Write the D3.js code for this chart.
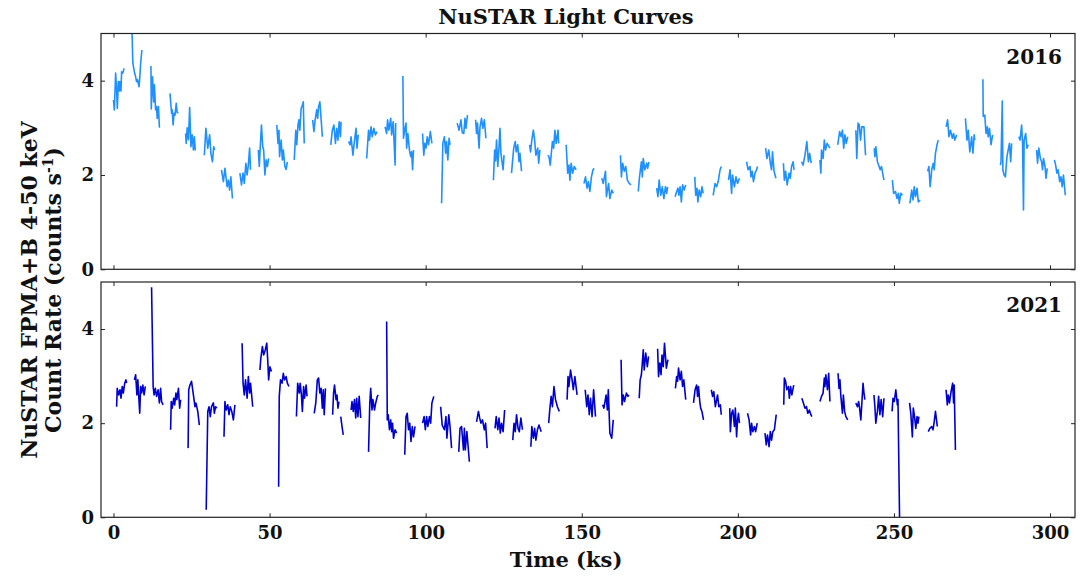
<!DOCTYPE html>
<html>
<head>
<meta charset="utf-8">
<script src="https://cdn.jsdelivr.net/npm/d3@7"></script>
<style>
body { margin: 0; background: #fff; }
text { font-family: "DejaVu Serif", serif; font-weight: bold; fill: #111; }
</style>
</head>
<body>
<script>
// tick values and labels
var xTicks = [0, 50, 100, 150, 200, 250, 300];
var yTicks = [0, 2, 4];
var years = ["2016", "2021"];

// light curves, one array per good-time interval: [time (ks), rate (counts/s)]
var lc2016 = [
  [[0,3.59],[0.27,3.38],[0.69,4.16],[1.0,3.80],[1.23,3.41],[1.55,3.98],[1.87,3.78],[2.08,3.98],[2.4,3.78],[2.6,4.19],[2.9,4.16],[3.15,4.19],[3.36,4.26]],
  [[5.8,5.4],[6.2,4.37],[6.67,4.19],[7.1,4.08],[7.4,3.98],[7.7,4.02],[8.2,3.87],[8.4,4.05],[8.7,4.37],[9.1,4.65]],
  [[12.0,4.31],[12.1,3.40],[12.5,4.08],[12.9,3.55],[13.1,3.91],[13.5,3.38],[13.8,3.45],[14.0,3.20],[14.4,3.45],[14.7,3.02],[14.9,3.01]],
  [[18.1,3.73],[18.6,3.31],[18.8,3.38],[19.1,3.06],[19.4,3.31],[19.7,3.27],[20.1,3.52],[20.4,3.32],[20.8,3.32]],
  [[23.1,2.88],[23.3,2.67],[23.6,3.0],[24.0,2.75],[24.4,3.43],[24.8,2.6],[25.2,2.85],[25.6,2.53],[25.9,2.81],[26.2,2.52]],
  [[29.1,2.42],[29.6,2.99],[30.2,2.57],[30.8,2.85],[31.2,2.46],[31.7,2.28],[32.1,2.6],[32.4,2.53]],
  [[34.6,2.11],[35.2,1.86],[35.7,2.14],[36.4,1.75],[36.8,1.89],[37.2,1.68],[37.6,1.96],[38.1,1.5]],
  [[40.5,2.04],[41.0,1.79],[41.5,2.04],[41.9,1.82],[42.4,2.25],[42.8,2.0],[43.2,2.21],[43.6,2.57],[43.9,2.11]],
  [[46.4,2.53],[46.7,2.18],[47.0,2.57],[47.4,3.06],[47.8,2.6],[48.1,2.53],[48.5,2.0],[48.9,2.32],[49.3,2.18],[49.7,2.35]],
  [[52.3,3.06],[52.7,2.67],[53.0,2.95],[53.2,2.39],[53.7,2.74],[54.1,2.32],[54.4,2.53],[54.9,2.18],[55.3,2.12],[55.7,2.28]],
  [[57.9,2.32],[58.4,2.95],[58.7,2.64],[59.1,3.06],[59.4,3.17],[59.7,2.95],[60.1,3.41],[60.5,3.48],[60.8,3.55],[61.1,2.67]],
  [[63.8,3.17],[64.2,2.92],[64.6,3.17],[65.1,3.38],[65.4,3.2],[65.7,3.45],[66.1,3.55],[66.6,3.1],[66.9,2.81]],
  [[69.6,2.64],[70.1,2.95],[70.6,3.06],[71.1,2.67],[71.5,2.99],[71.9,2.74],[72.3,3.13],[72.7,2.81],[72.9,3.13]],
  [[75.3,2.71],[75.8,2.64],[76.1,2.81],[76.7,2.42],[77.1,2.67],[77.7,2.99],[78.0,2.57],[78.4,2.85]],
  [[81.1,2.35],[81.7,2.95],[82.0,2.74],[82.5,3.02],[82.9,2.81],[83.4,2.99],[83.9,2.85],[84.4,2.92]],
  [[87.0,3.02],[87.5,2.88],[87.8,3.17],[88.2,2.95],[88.8,3.2],[89.1,2.85],[89.6,3.13],[90.2,2.21],[90.4,3.1]],
  [[92.7,4.10],[92.9,2.78],[93.4,3.0],[93.7,3.10],[93.9,2.57],[94.3,2.88],[94.8,2.53],[95.2,2.39],[95.5,2.49],[95.8,2.11],[96.1,2.53]],
  [[99.0,2.88],[99.4,2.42],[99.7,2.67],[100.1,2.57],[100.5,2.81],[100.9,2.64],[101.5,2.92],[102.0,2.67]],
  [[105.1,1.40],[105.5,2.67],[106.0,2.81],[106.4,2.46],[106.7,2.71],[107.1,2.32],[107.5,2.78],[107.8,2.64]],
  [[110.1,3.10],[110.7,2.95],[111.3,3.17],[111.7,2.9],[112.2,2.88],[112.6,3.2],[112.9,2.99],[113.4,3.27]],
  [[116.0,3.17],[116.3,2.88],[116.6,3.10],[117.1,2.57],[117.4,3.02],[117.9,3.2],[118.3,2.99],[118.8,3.17],[119.3,2.78]],
  [[121.7,1.89],[122.1,2.53],[122.4,2.3],[122.7,2.74],[123.1,2.18],[123.5,2.6],[123.8,2.99],[124.1,2.46],[124.8,2.11],[125.1,2.42]],
  [[127.5,2.04],[128.2,2.57],[128.7,2.71],[129.0,2.49],[129.5,2.64],[129.9,2.28],[130.2,2.46],[130.7,2.08]],
  [[133.3,2.64],[133.6,2.49],[134.0,2.74],[134.5,2.95],[134.9,2.74],[135.3,2.42],[135.9,2.57],[136.2,2.25],[136.6,2.53]],
  [[139.1,2.42],[139.5,2.39],[139.9,2.21],[140.6,2.71],[141.0,2.57],[141.4,2.95],[141.8,2.67],[142.4,2.95],[142.6,2.67]],
  [[145.0,2.64],[145.5,2.04],[145.9,2.21],[146.2,1.89],[146.6,2.25],[147.1,2.04],[147.6,2.18],[148.2,2.11]],
  [[150.7,1.82],[151.2,1.96],[151.7,1.72],[152.1,1.86],[152.6,1.65],[153.1,1.96],[153.6,2.11],[154.0,2.14]],
  [[156.4,1.93],[156.9,1.82],[157.6,2.08],[157.9,1.54],[158.6,1.82],[159.0,1.50],[159.6,1.68],[160.1,1.61]],
  [[162.4,2.42],[162.7,1.96],[163.1,2.25],[163.6,2.08],[164.1,2.18],[164.6,1.89],[165.2,1.82],[165.8,1.79]],
  [[168.1,1.65],[168.5,1.96],[169.1,2.28],[169.4,1.96],[169.7,2.35],[170.2,2.11],[170.8,2.25],[171.1,2.14],[171.5,2.28]],
  [[174.0,1.72],[174.4,1.54],[174.8,1.89],[175.3,1.57],[175.8,1.75],[176.3,1.50],[176.8,1.75],[177.2,1.61],[177.5,1.75]],
  [[179.9,1.54],[180.4,1.65],[180.8,1.72],[181.1,1.57],[181.5,1.75],[181.9,1.43],[182.3,1.79],[182.8,1.68],[183.3,1.79]],
  [[186.2,1.96],[186.5,1.57],[186.9,1.72],[187.2,1.43],[187.6,1.68],[188.1,1.54],[188.5,1.75],[188.9,1.61]],
  [[192.1,1.57],[192.7,1.82],[193.2,1.75],[193.7,1.86],[194.3,2.11],[194.7,2.18]],
  [[197.0,1.89],[197.5,2.11],[198.0,1.61],[198.3,2.0],[198.9,1.75],[199.4,1.96],[199.9,1.82],[200.5,1.93]],
  [[202.8,2.28],[203.3,2.11],[203.9,2.18],[204.2,1.96],[204.6,2.08],[205.0,1.86],[205.5,2.04],[206.0,2.11],[206.3,2.18]],
  [[208.9,2.57],[209.3,2.35],[209.9,2.53],[210.4,2.25],[210.8,2.11],[211.1,2.49],[211.6,2.08],[212.2,1.93]],
  [[214.6,2.25],[214.9,1.89],[215.3,2.08],[215.8,1.79],[216.4,2.04],[216.8,1.93],[217.2,2.18],[217.7,2.28],[218.0,2.11]],
  [[220.4,2.28],[220.9,2.21],[221.5,2.42],[222.1,2.71],[222.6,2.28],[223.0,2.46],[223.5,2.25]],
  [[226.3,2.32],[226.6,2.04],[226.8,2.53],[227.3,2.35],[227.7,2.74],[228.1,2.53],[228.6,2.67],[229.5,2.57]],
  [[232.0,2.64],[232.6,2.92],[233.1,2.81],[233.5,2.95],[233.9,2.57],[234.3,2.85],[234.7,2.67],[235.2,2.81]],
  [[237.8,2.95],[238.1,2.35],[238.5,3.10],[238.9,3.06],[239.3,2.74],[239.7,3.02],[240.4,3.02],[240.9,2.42]],
  [[243.7,2.57],[243.9,2.39],[244.2,2.6],[244.7,2.28],[245.1,2.21],[245.6,2.11],[246.0,2.18],[246.8,1.89]],
  [[249.5,1.89],[249.9,1.61],[250.5,1.65],[251.0,1.50],[251.4,1.61],[251.7,1.40],[252.2,1.61],[252.7,1.57]],
  [[255.1,1.40],[255.7,1.68],[256.1,1.47],[256.5,1.75],[256.9,1.54],[257.4,1.72],[257.8,1.43],[258.4,1.47]],
  [[260.8,2.08],[261.2,2.18],[261.6,1.75],[262.1,2.11],[262.6,2.25],[262.9,2.11],[263.3,2.46],[263.8,2.64],[264.2,2.74]],
  [[266.7,3.02],[267.2,3.17],[267.6,2.81],[268.1,2.95],[268.7,2.78],[269.1,2.88],[269.5,2.74],[270.1,2.85]],
  [[272.9,3.20],[273.4,2.74],[273.8,2.95],[274.3,2.49],[274.9,2.81],[275.3,2.46],[275.7,2.85],[275.9,2.74]],
  [[278.5,4.03],[278.6,3.24],[279.1,3.27],[279.5,2.88],[279.9,3.02],[280.2,2.81],[280.6,2.99],[281.1,2.64],[281.6,2.85]],
  [[284.1,2.21],[284.3,2.28],[284.7,3.57],[284.9,2.1],[285.3,2.0],[285.7,1.96],[286.2,2.39],[286.6,2.53],[287.0,2.67],[287.4,2.28],[287.7,2.67]],
  [[290.0,2.81],[290.4,2.74],[290.9,3.06],[291.2,2.67],[291.5,1.26],[291.7,2.74],[292.2,2.88],[292.6,2.57],[293.0,2.64]],
  [[295.7,2.53],[296.0,2.25],[296.4,2.57],[296.9,2.35],[297.3,2.28],[297.6,2.11],[297.9,2.35],[298.4,2.18],[298.7,1.93],[299.1,2.14]],
  [[301.4,2.32],[301.8,2.21],[302.2,2.04],[302.6,2.11],[303.1,1.86],[303.5,1.96],[303.9,1.75],[304.3,2.0],[304.9,1.57]]
];

var lc2021 = [
  [[1.0,2.35],[1.2,2.74],[1.65,2.60],[2.1,2.71],[2.4,2.53],[2.8,2.78],[3.15,2.64],[3.6,2.85],[4.0,2.92],[4.2,2.85]],
  [[6.7,2.92],[7.1,3.03],[7.5,2.60],[7.8,2.92],[8.4,2.21],[8.7,2.78],[9.0,2.64],[9.4,2.81],[9.8,2.60],[10.2,2.78]],
  [[12.2,4.89],[12.7,2.78],[13.0,2.60],[13.4,2.74],[13.8,2.57],[14.3,2.71],[14.7,2.43],[15.1,2.74],[15.4,2.46],[15.9,2.39]],
  [[18.3,1.86],[18.5,2.46],[18.8,2.32],[19.3,2.53],[19.6,2.39],[20.0,2.64],[20.3,2.50],[20.8,2.74],[21.2,2.32],[21.5,2.50]],
  [[23.9,1.47],[24.1,2.71],[24.5,2.81],[25.0,2.89],[25.6,2.60],[26.1,2.35],[26.4,2.43],[27.0,2.25],[27.5,1.96]],
  [[29.7,0.16],[30.2,2.25],[30.6,2.35],[31.0,2.14],[31.4,2.35],[32.0,2.43],[32.3,2.21],[32.7,2.35],[33.1,2.32]],
  [[35.4,1.71],[35.7,2.46],[36.1,2.28],[36.6,2.39],[37.0,2.18],[37.4,2.35],[37.9,2.25],[38.4,2.07],[38.9,2.39]],
  [[41.2,3.70],[41.5,2.85],[41.9,2.60],[42.3,2.92],[42.8,2.53],[43.2,2.99],[43.6,2.64],[43.9,2.85],[44.6,2.35]],
  [[46.9,3.13],[47.2,3.38],[47.7,3.63],[48.1,3.45],[48.6,3.55],[49.1,3.70],[49.4,3.35],[49.7,2.92],[50.1,3.20],[50.6,3.10]],
  [[52.9,0.65],[53.1,2.57],[53.5,2.92],[54.0,2.85],[54.4,3.06],[54.8,2.92],[55.3,2.99],[55.7,2.85],[56.2,2.78]],
  [[58.6,2.14],[59.0,2.85],[59.5,2.64],[59.8,2.85],[60.2,2.6],[60.5,2.25],[60.9,2.78],[61.2,2.53],[61.7,2.81],[62.0,2.57]],
  [[64.3,2.21],[64.8,2.43],[65.3,2.92],[65.7,2.96],[66.1,2.64],[66.5,2.74],[66.9,2.32],[67.2,2.71],[67.5,2.18],[67.9,2.74]],
  [[70.2,2.18],[70.5,2.64],[70.8,2.81],[71.3,2.50],[71.6,2.60],[71.9,2.32],[72.2,2.46]],
  [[72.8,2.14],[73.2,1.93],[73.6,1.75]],
  [[76.1,2.28],[76.4,2.46],[76.8,2.25],[77.2,2.50],[77.6,2.11],[77.9,2.53],[78.3,2.14],[78.7,2.57],[79.2,2.11]],
  [[81.7,1.39],[82.1,2.43],[82.4,2.74],[82.8,2.28],[83.1,2.50],[83.6,2.28],[84.0,2.43],[84.5,2.57],[84.8,2.60]],
  [[87.5,4.16],[87.7,2.07],[88.0,2.18],[88.4,1.86],[88.8,2.07],[89.1,1.82],[89.4,2.0],[89.7,1.68],[90.2,1.86],[90.7,1.79]],
  [[93.3,1.33],[93.7,2.14],[94.1,2.21],[94.5,1.86],[94.9,2.0],[95.3,1.61],[95.7,1.93],[96.1,1.71],[96.6,1.93]],
  [[99.0,2.0],[99.5,2.14],[99.9,1.86],[100.3,2.14],[100.7,1.93],[101.2,2.14],[101.6,2.0],[102.0,2.43],[102.6,2.57]],
  [[104.8,2.35],[105.3,1.96],[106.0,1.86],[106.5,2.14],[106.8,1.68],[107.4,2.18],[107.8,1.93],[108.3,1.47]],
  [[110.6,1.39],[111.0,1.89],[111.5,1.93],[112.1,1.43],[112.4,1.89],[112.7,1.43],[113.2,1.82],[114.0,1.18]],
  [[116.3,2.03],[116.9,2.25],[117.3,2.11],[117.7,2.0],[118.2,2.07],[118.8,1.86],[119.2,2.0],[119.7,1.47]],
  [[122.2,1.89],[122.6,2.14],[123.1,1.86],[123.5,2.11],[123.9,1.79],[124.3,2.0],[124.8,1.82],[125.3,2.28]],
  [[127.9,1.64],[128.3,2.0],[128.7,1.82],[129.1,2.18],[129.6,1.89],[130.0,1.82],[130.5,2.11],[131.0,1.86]],
  [[133.7,1.50],[134.0,1.93],[134.5,1.68],[134.9,1.89],[135.3,1.64],[135.8,1.86],[136.3,1.96],[137.0,1.82]],
  [[139.4,2.0],[139.8,2.32],[140.2,2.57],[140.6,2.35],[141.1,2.78],[141.6,2.50],[142.2,2.35],[142.8,2.25]],
  [[145.3,2.50],[145.6,2.99],[145.9,2.78],[146.4,3.13],[146.9,2.92],[147.3,2.71],[147.8,2.99],[148.5,2.60]],
  [[151.1,2.71],[151.6,2.35],[152.0,2.60],[152.4,2.18],[152.8,2.53],[153.3,2.14],[153.8,2.71],[154.4,2.14]],
  [[156.7,2.39],[157.1,2.32],[157.8,2.60],[158.2,2.28],[158.5,2.71],[159.0,1.79],[159.6,1.68],[160.1,2.07]],
  [[162.6,3.35],[162.9,2.39],[163.3,2.60],[163.7,2.46],[164.3,2.64],[164.8,2.57],[165.1,2.60]],
  [[168.4,2.53],[168.7,2.92],[169.1,3.03],[169.4,3.28],[169.7,3.56],[170.0,3.13],[170.5,3.49],[171.0,3.20],[171.4,3.42]],
  [[174.3,3.58],[174.6,2.99],[175.0,3.28],[175.4,3.03],[175.7,3.45],[176.1,3.20],[176.5,3.70],[177.1,3.17],[177.6,3.35]],
  [[180.0,2.74],[180.4,2.99],[180.7,2.89],[181.0,3.17],[181.5,2.92],[181.9,3.10],[182.3,2.78],[182.7,2.92],[183.3,2.50]],
  [[185.8,2.43],[186.3,2.71],[186.8,2.81],[187.1,2.57],[187.4,2.78],[187.8,2.46],[188.1,2.32],[188.5,2.25],[189.0,2.07]],
  [[191.5,2.71],[191.9,2.57],[192.3,2.67],[192.8,2.35],[193.2,2.50],[193.5,2.60],[193.9,2.35],[194.4,2.39],[194.7,2.18]],
  [[197.4,2.32],[197.6,1.82],[198.0,2.21],[198.4,2.28],[198.9,1.93],[199.2,2.32],[199.6,1.71],[199.9,2.07],[200.2,2.21],[200.5,2.0]],
  [[203.1,2.21],[203.6,2.07],[204.1,1.75],[204.4,2.0],[204.8,1.82],[205.3,1.93],[205.7,1.82],[206.2,2.0]],
  [[208.7,1.79],[209.1,1.54],[209.5,1.75],[210.0,1.50],[210.4,1.82],[210.8,1.64],[211.2,1.82],[211.7,1.86],[212.3,2.18]],
  [[214.7,2.39],[214.9,2.96],[215.3,2.89],[215.7,2.71],[216.2,2.78],[216.5,2.53],[216.9,2.78],[217.3,2.60],[217.9,2.81]],
  [[220.5,2.53],[221.0,2.43],[221.5,2.32],[222.0,2.35],[222.4,2.21],[222.9,2.28],[223.4,2.18],[223.7,2.14]],
  [[226.3,2.46],[226.8,2.57],[227.3,2.64],[227.7,2.96],[227.9,2.78],[228.2,3.03],[228.7,2.71],[229.1,3.06],[229.5,2.46]],
  [[232.1,3.06],[232.4,2.74],[232.7,2.92],[233.0,2.57],[233.5,2.21],[233.8,2.60],[234.2,2.25],[234.6,2.14],[235.2,2.07]],
  [[237.8,2.43],[238.3,2.35],[238.7,2.46],[239.0,2.32],[239.4,2.07],[240.1,2.85],[240.4,2.64],[240.7,2.50]],
  [[243.6,2.60],[243.9,2.35],[244.2,2.0],[244.7,2.25],[245.1,2.57],[245.5,2.18],[245.9,2.50],[246.4,2.14],[246.8,2.53]],
  [[249.4,2.25],[249.7,2.53],[250.1,2.46],[250.6,2.71],[251.1,2.39],[251.3,2.50],[251.8,0.0]],
  [[255.0,2.43],[255.4,2.21],[255.9,1.71],[256.2,2.32],[256.6,2.14],[257.0,1.89],[257.4,2.14],[257.7,2.0],[258.0,2.14]],
  [[261.0,1.82],[261.5,1.89],[262.1,1.93],[262.5,1.86],[262.9,2.03],[263.3,2.25],[263.9,1.93]],
  [[266.7,2.71],[267.1,2.39],[267.4,2.60],[267.8,2.43],[268.3,2.67],[268.8,2.85],[269.1,2.43],[269.3,2.81],[269.7,1.43]]
];

var width = 1080, height = 578;
var left = 101, right = 1075;

var svg = d3.select("body").append("svg")
    .attr("width", width)
    .attr("height", height);

var x = d3.scaleLinear().domain([-4, 308]).range([left, right]);

var panels = [
  { year: years[0], data: lc2016, color: "#1e90ff", top: 33.5, bottom: 269.3, labels: false },
  { year: years[1], data: lc2021, color: "#0000cd", top: 282, bottom: 517.3, labels: true }
];

var line = d3.line();

panels.forEach(function(p, i) {
  var y = d3.scaleLinear().domain([0, 5]).range([p.bottom, p.top]);
  var g = svg.append("g");

  svg.append("clipPath").attr("id", "clip" + i)
    .append("rect")
    .attr("x", left).attr("y", p.top)
    .attr("width", right - left).attr("height", p.bottom - p.top);

  g.append("g").attr("clip-path", "url(#clip" + i + ")")
    .selectAll("path")
    .data(p.data)
    .enter().append("path")
      .attr("d", function(seg) { return line.x(function(d){ return x(d[0]); }).y(function(d){ return y(d[1]); })(seg); })
      .attr("fill", "none")
      .attr("stroke", p.color)
      .attr("stroke-width", 1.6)
      .attr("stroke-linejoin", "round");

  // ticks on all four sides, pointing in
  var bottomAxis = d3.axisBottom(x).tickValues(xTicks).tickSizeInner(-4).tickSizeOuter(0).tickPadding(9);
  if (!p.labels) bottomAxis.tickFormat("");
  var gb = g.append("g").attr("transform", "translate(0," + p.bottom + ")").call(bottomAxis);

  var gt = g.append("g").attr("transform", "translate(0," + p.top + ")")
    .call(d3.axisTop(x).tickValues(xTicks).tickSizeInner(-4).tickSizeOuter(0).tickFormat(""));

  var gl = g.append("g").attr("transform", "translate(" + left + ",0)")
    .call(d3.axisLeft(y).tickValues(yTicks).tickFormat(d3.format("d")).tickSizeInner(-4).tickSizeOuter(0).tickPadding(7));

  var gr = g.append("g").attr("transform", "translate(" + right + ",0)")
    .call(d3.axisRight(y).tickValues(yTicks).tickSizeInner(-4).tickSizeOuter(0).tickFormat(""));

  [gb, gt, gl, gr].forEach(function(a) {
    a.select(".domain").remove();
    a.selectAll(".tick line").attr("stroke", "#222").attr("stroke-width", 1);
    a.selectAll(".tick text").style("font-family", "DejaVu Serif, serif")
      .style("font-weight", "bold").style("font-size", "18px").attr("fill", "#111");
  });

  g.append("rect")
    .attr("x", left).attr("y", p.top)
    .attr("width", right - left).attr("height", p.bottom - p.top)
    .attr("fill", "none").attr("stroke", "#222").attr("stroke-width", 1.2);

  g.append("text")
    .attr("x", 1062).attr("y", p.top + 30)
    .attr("text-anchor", "end")
    .style("font-size", "20px")
    .text(p.year);
});

svg.append("text")
  .attr("x", 566).attr("y", 24)
  .attr("text-anchor", "middle")
  .style("font-size", "21px")
  .text("NuSTAR Light Curves");

svg.append("text")
  .attr("x", 566).attr("y", 567)
  .attr("text-anchor", "middle")
  .style("font-size", "21px")
  .text("Time (ks)");

var ylab = svg.append("text")
  .attr("transform", "translate(37,290) rotate(-90)")
  .attr("text-anchor", "middle")
  .style("font-size", "22px");
ylab.append("tspan").attr("x", 0).attr("dy", 0).text("NuSTAR FPMA+B 4-50 keV");
var l2 = ylab.append("tspan").attr("x", 0).attr("dy", 24).text("Count Rate (counts s");
l2.append("tspan").attr("dy", -8).style("font-size", "14px").text("-1");
l2.append("tspan").attr("dy", 8).text(")");
</script>
</body>
</html>
